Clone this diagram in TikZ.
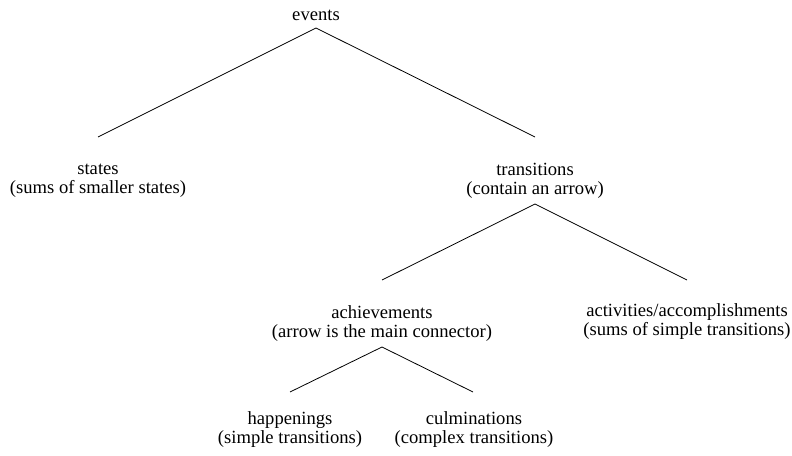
\documentclass[tikz,border=0pt]{standalone}
\usepackage{fontspec}
\setmainfont{Liberation Serif}
\begin{document}
\begin{tikzpicture}[x=1pt,y=-1pt,
  lbl/.style={anchor=base,align=center,inner sep=0pt,font=\fontsize{18.6}{19}\selectfont},
  edge/.style={line width=0.8pt}]
\useasboundingbox (0,0) rectangle (792,455);
\node[lbl] (ev) at (316,20.5) {events};
\node[lbl] (st) at (98,193) {states\\(sums of smaller states)};
\node[lbl] (tr) at (535,194) {transitions\\(contain an arrow)};
\node[lbl] (ac) at (382,337) {achievements\\(arrow is the main connector)};
\node[lbl] (aa) at (687,335.5) {activities/accomplishments\\(sums of simple transitions)};
\node[lbl] (ha) at (290,443) {happenings\\(simple transitions)};
\node[lbl] (cu) at (474,443) {culminations\\(complex transitions)};
\coordinate (evB) at (316,28);
\coordinate (stT) at (98,137);
\coordinate (trT) at (535,137);
\coordinate (trB) at (535,204);
\coordinate (acT) at (382,280);
\coordinate (aaT) at (687,280);
\coordinate (acB) at (382,347);
\coordinate (haT) at (290,392);
\coordinate (cuT) at (473,392);
\draw[edge] (stT) -- (evB) -- (trT);
\draw[edge] (acT) -- (trB) -- (aaT);
\draw[edge] (haT) -- (acB) -- (cuT);
\end{tikzpicture}
\end{document}
